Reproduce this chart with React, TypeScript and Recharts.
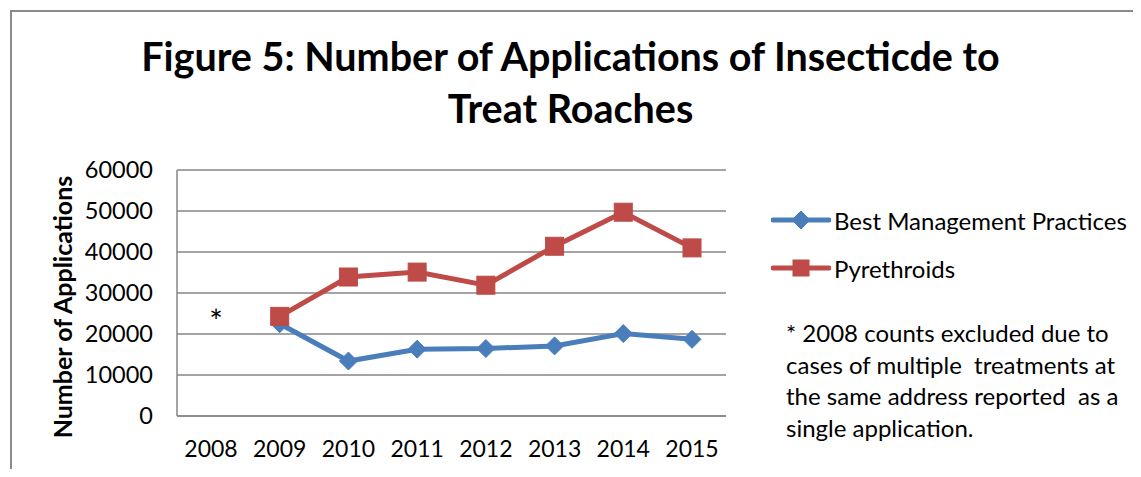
import React from 'react';
import {
  LineChart,
  Line,
  XAxis,
  YAxis,
  CartesianGrid,
  Legend,
  ReferenceDot,
} from 'recharts';

const years = ['2008', '2009', '2010', '2011', '2012', '2013', '2014', '2015'];
const bestManagement = [null, 22500, 13400, 16300, 16450, 17100, 20100, 18700];
const pyrethroids = [null, 24300, 33900, 35100, 31900, 41400, 49700, 41000];
const yTicks = [0, 10000, 20000, 30000, 40000, 50000, 60000];
const excludedYear = '2008';
const excludedMarkValue = 23000;

const BLUE = '#4a7ebb';
const RED = '#be4b48';
const GRID = '#868686';
const FONT = "Lato, 'Open Sans', sans-serif";

const data = years.map((year, i) => ({
  year,
  bmp: bestManagement[i],
  pyr: pyrethroids[i],
}));

const Diamond = ({ cx, cy, r, color }: { cx: number; cy: number; r: number; color: string }) => (
  <polygon
    points={`${cx},${cy - r} ${cx + r},${cy} ${cx},${cy + r} ${cx - r},${cy}`}
    fill={color}
    stroke={color}
    strokeWidth={1}
  />
);

const Square = ({ cx, cy, r, color }: { cx: number; cy: number; r: number; color: string }) => (
  <rect x={cx - r} y={cy - r} width={r * 2} height={r * 2} fill={color} stroke={color} strokeWidth={1} />
);

const renderDot = (kind: 'diamond' | 'square', color: string) => (props: any) => {
  const { cx, cy, index } = props;
  if (cx == null || cy == null || props.value == null) return <g key={`e-${kind}-${index}`} />;
  return kind === 'diamond' ? (
    <Diamond key={`d-${index}`} cx={cx} cy={cy} r={9} color={color} />
  ) : (
    <Square key={`s-${index}`} cx={cx} cy={cy} r={9} color={color} />
  );
};

const LegendBox = (props: any) => {
  const { payload = [] } = props;
  return (
    <div style={{ fontFamily: FONT, fontSize: 24, color: '#000' }}>
      {payload.map((entry: any) => (
        <div key={entry.value} style={{ display: 'flex', alignItems: 'center', height: 48 }}>
          <svg width={60} height={22} style={{ marginRight: 3 }}>
            <line x1={2} y1={11} x2={58} y2={11} stroke={entry.color} strokeWidth={5} strokeLinecap="round" />
            {entry.dataKey === 'bmp' ? (
              <Diamond cx={30} cy={11} r={9} color={entry.color} />
            ) : (
              <Square cx={30} cy={11} r={8} color={entry.color} />
            )}
          </svg>
          <span>{entry.value}</span>
        </div>
      ))}
    </div>
  );
};

export default function App() {
  return (
    <div
      style={{
        position: 'relative',
        width: 1141,
        height: 477,
        margin: -8,
        overflow: 'hidden',
        background: '#fff',
        fontFamily: FONT,
      }}
    >
      {/* outer chart frame, cut off at right and bottom */}
      <div
        style={{
          position: 'absolute',
          left: 10,
          top: 10,
          width: 1300,
          height: 700,
          border: '2px solid #8a8a8a',
        }}
      />

      <div
        style={{
          position: 'absolute',
          left: 0,
          top: 30,
          width: 1141,
          textAlign: 'center',
          fontWeight: 700,
          fontSize: 39.5,
          lineHeight: '52px',
          color: '#000',
        }}
      >
        <div>Figure 5: Number of Applications of Insecticde to</div>
        <div>Treat Roaches</div>
      </div>

      <div style={{ position: 'absolute', left: 0, top: 0 }}>
        <LineChart
          width={1141}
          height={477}
          data={data}
          margin={{ top: 170, right: 415, bottom: 21, left: 0 }}
        >
          <CartesianGrid vertical={false} stroke={GRID} strokeWidth={1.5} />
          <XAxis
            dataKey="year"
            padding={{ left: 34, right: 34 }}
            height={40}
            tickLine={false}
            tickSize={0}
            tickMargin={25}
            axisLine={{ stroke: GRID, strokeWidth: 1.5 }}
            tick={{ fill: '#000', fontSize: 23, fontFamily: FONT }}
            interval={0}
          />
          <YAxis
            width={177}
            domain={[0, 60000]}
            ticks={yTicks}
            tickLine={false}
            tickSize={0}
            tickMargin={24}
            axisLine={{ stroke: GRID, strokeWidth: 1.5 }}
            tick={{ fill: '#000', fontSize: 23.5, fontFamily: FONT }}
            interval={0}
          />
          <ReferenceDot
            x={excludedYear}
            y={excludedMarkValue}
            r={0}
            fill="none"
            stroke="none"
            label={{ value: '*', position: 'center', fill: '#000', fontSize: 32, dx: 5 }}
          />
          <Legend
            layout="vertical"
            align="center"
            verticalAlign="middle"
            content={<LegendBox />}
            wrapperStyle={{ left: 771, top: 196, width: 370 }}
          />
          <Line
            type="linear"
            dataKey="bmp"
            name="Best Management Practices"
            stroke={BLUE}
            strokeWidth={5}
            dot={renderDot('diamond', BLUE)}
            activeDot={false}
            connectNulls={false}
            isAnimationActive={false}
          />
          <Line
            type="linear"
            dataKey="pyr"
            name="Pyrethroids"
            stroke={RED}
            strokeWidth={5}
            dot={renderDot('square', RED)}
            activeDot={false}
            connectNulls={false}
            isAnimationActive={false}
          />
        </LineChart>
      </div>

      <div
        style={{
          position: 'absolute',
          left: 62,
          top: 307,
          transform: 'translate(-50%, -50%) rotate(-90deg)',
          whiteSpace: 'nowrap',
          fontWeight: 700,
          fontSize: 25,
          color: '#000',
        }}
      >
        Number of Applications
      </div>

      <div
        style={{
          position: 'absolute',
          left: 786,
          top: 317,
          width: 355,
          fontSize: 24,
          lineHeight: '31.5px',
          color: '#000',
          whiteSpace: 'pre',
        }}
      >
        {'* 2008 counts excluded due to\ncases of multiple  treatments at\nthe same address reported  as a\nsingle application.'}
      </div>
    </div>
  );
}
